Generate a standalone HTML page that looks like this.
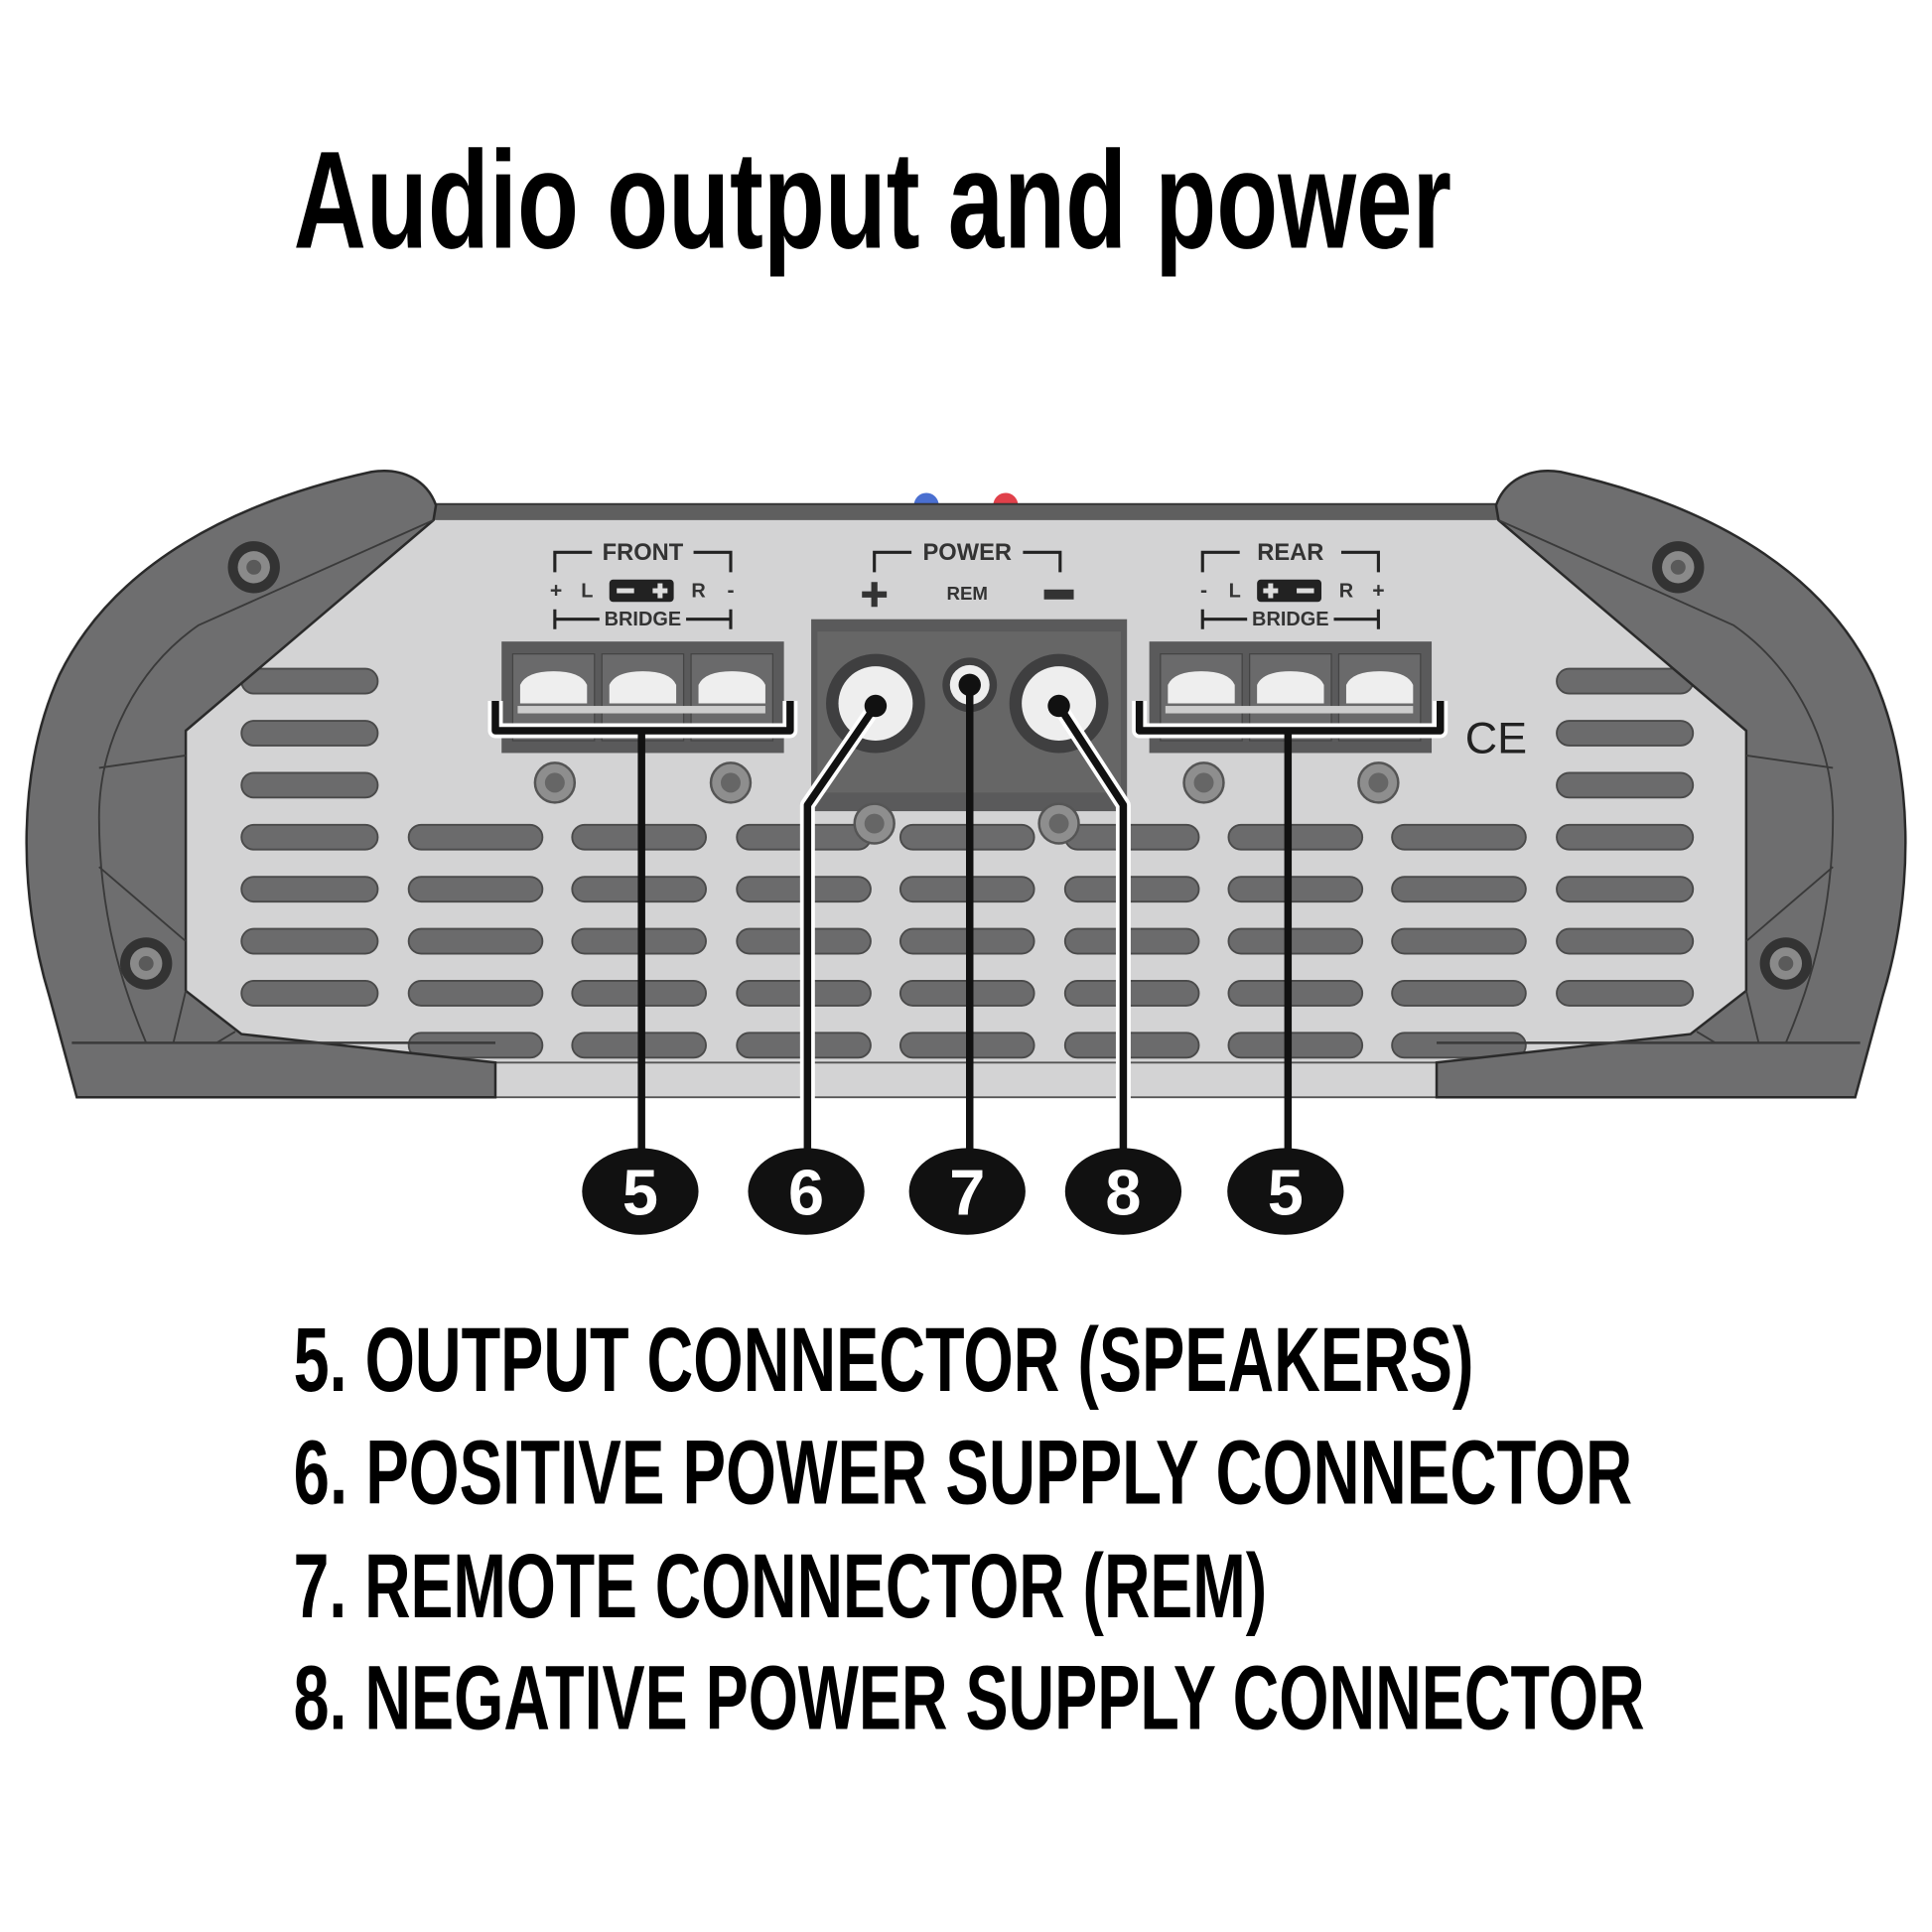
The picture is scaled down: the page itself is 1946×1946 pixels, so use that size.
<!DOCTYPE html>
<html><head><meta charset="utf-8"><style>
html,body{margin:0;padding:0;background:#fff;}
svg{display:block;}
</style></head><body>
<svg width="1946" height="1946" viewBox="0 0 1560 1560" xmlns="http://www.w3.org/2000/svg">
<rect width="1560" height="1560" fill="#fff"/>
<text x="237" y="200" font-family="Liberation Sans Narrow, Liberation Sans, sans-serif" font-weight="bold" font-size="112" textLength="935" lengthAdjust="spacingAndGlyphs" fill="#000">Audio output and power</text>

<circle cx="748" cy="408" r="10" fill="#4a6fd0"/>
<circle cx="812" cy="408" r="10" fill="#e0404a"/>
<rect x="345" y="407" width="870" height="14" fill="#5f5f5f" stroke="#333" stroke-width="1.5"/>
<path d="M350,420 L1210,420 L1410,590 L1410,800 L1365,835 L1160,858 L1160,886 L400,886 L400,858 L195,835 L150,800 L150,590 Z" fill="#d3d3d4"/>
<rect x="400" y="858" width="760" height="28" fill="#d3d3d4" stroke="#555" stroke-width="1.5"/>

<g fill="#6b6b6c" stroke="#4a4a4a" stroke-width="1.5">
<rect x="195" y="540" width="110" height="20" rx="10"/>
<rect x="195" y="582" width="110" height="20" rx="10"/>
<rect x="195" y="624" width="110" height="20" rx="10"/>
<rect x="195" y="666" width="110" height="20" rx="10"/>
<rect x="195" y="708" width="110" height="20" rx="10"/>
<rect x="195" y="750" width="110" height="20" rx="10"/>
<rect x="195" y="792" width="110" height="20" rx="10"/>
<rect x="1257" y="540" width="110" height="20" rx="10"/>
<rect x="1257" y="582" width="110" height="20" rx="10"/>
<rect x="1257" y="624" width="110" height="20" rx="10"/>
<rect x="1257" y="666" width="110" height="20" rx="10"/>
<rect x="1257" y="708" width="110" height="20" rx="10"/>
<rect x="1257" y="750" width="110" height="20" rx="10"/>
<rect x="1257" y="792" width="110" height="20" rx="10"/>
</g>
<g fill="#6b6b6c" stroke="#4a4a4a" stroke-width="1.5">
<g id="c"><rect x="330" y="666" width="108" height="20" rx="10"/><rect x="330" y="708" width="108" height="20" rx="10"/><rect x="330" y="750" width="108" height="20" rx="10"/><rect x="330" y="792" width="108" height="20" rx="10"/><rect x="330" y="834" width="108" height="20" rx="10"/></g>
<use href="#c" x="132"/><use href="#c" x="265"/><use href="#c" x="397"/><use href="#c" x="530"/><use href="#c" x="662"/><use href="#c" x="794"/>
</g>

<g id="cap">
<path d="M62,886 L40,805 C14,720 14,620 48,545 C92,455 190,405 300,381 C325,377 345,388 352,408 L350,420 L150,590 L150,800 L195,835 L400,858 L400,886 Z" fill="#6e6e6f" stroke="#2a2a2a" stroke-width="2"/>
<path d="M350,420 L160,505 C110,540 80,600 80,660 C80,740 100,800 118,842" fill="none" stroke="#3a3a3a" stroke-width="1.5"/>
<path d="M80,620 L150,610 M80,700 L150,760 M140,842 L150,800 M175,842 L190,833" stroke="#3a3a3a" stroke-width="1.5"/>
<path d="M58,842 L400,842" stroke="#3a3a3a" stroke-width="2"/>
<circle cx="205" cy="458" r="21" fill="#333"/><circle cx="205" cy="458" r="13" fill="#8a8a8a"/><circle cx="205" cy="458" r="6" fill="#5a5a5a"/>
<circle cx="118" cy="778" r="21" fill="#333"/><circle cx="118" cy="778" r="13" fill="#8a8a8a"/><circle cx="118" cy="778" r="6" fill="#5a5a5a"/>
</g>
<use href="#cap" transform="translate(1560,0) scale(-1,1)"/>

<g font-family="Liberation Sans Narrow, Liberation Sans, sans-serif" font-weight="bold" fill="#333" text-anchor="middle">
<text x="519" y="452" font-size="19">FRONT</text>
<text x="781" y="452" font-size="19">POWER</text>
<text x="1042" y="452" font-size="19">REAR</text>
<text x="519" y="505" font-size="16">BRIDGE</text>
<text x="1042" y="505" font-size="16">BRIDGE</text>
<text x="781" y="484" font-size="15">REM</text>
<text x="449" y="482" font-size="17">+</text><text x="474" y="482" font-size="16">L</text><text x="564" y="482" font-size="16">R</text><text x="590" y="482" font-size="17">-</text>
<text x="972" y="482" font-size="17">-</text><text x="997" y="482" font-size="16">L</text><text x="1087" y="482" font-size="16">R</text><text x="1113" y="482" font-size="17">+</text>
</g>
<g stroke="#222" stroke-width="2.5" fill="none">
<path d="M448,462 V446 H478 M560,446 H590 V462"/>
<path d="M448,492 V508 M448,500 H484 M554,500 H590 M590,492 V508"/>
<path d="M971,462 V446 H1001 M1083,446 H1113 V462"/>
<path d="M971,492 V508 M971,500 H1007 M1077,500 H1113 M1113,492 V508"/>
<path d="M706,462 V446 H736 M826,446 H856 V462"/>
</g>
<rect x="492" y="468" width="52" height="18" rx="3" fill="#222"/>
<rect x="1015" y="468" width="52" height="18" rx="3" fill="#222"/>
<g fill="#ddd"><rect x="498" y="475" width="14" height="4"/><rect x="527" y="475" width="12" height="4"/><rect x="531" y="471" width="4" height="12"/>
<rect x="1020" y="475" width="12" height="4"/><rect x="1024" y="471" width="4" height="12"/><rect x="1047" y="475" width="14" height="4"/></g>
<path d="M706,470 V490 M696,480 H716" stroke="#333" stroke-width="5"/>
<rect x="843" y="476" width="24" height="8" fill="#333"/>

<g id="tb">
<rect x="405" y="518" width="228" height="90" fill="#5a5a5b"/>
<rect x="414" y="528" width="66" height="70" fill="#6a6a6b" stroke="#444"/>
<rect x="486" y="528" width="66" height="70" fill="#6a6a6b" stroke="#444"/>
<rect x="558" y="528" width="66" height="70" fill="#6a6a6b" stroke="#444"/>
<path d="M420,568 V553 Q425,542 447,542 Q469,542 474,553 V568 Z M492,568 V553 Q497,542 519,542 Q541,542 546,553 V568 Z M564,568 V553 Q569,542 591,542 Q613,542 618,553 V568 Z" fill="#eee"/>
<rect x="418" y="570" width="200" height="6" fill="#ccc"/>
</g>
<use href="#tb" x="523"/>

<rect x="655" y="500" width="255" height="155" fill="#5a5a5b"/>
<rect x="660" y="510" width="245" height="130" fill="#666"/>
<circle cx="707" cy="568" r="40" fill="#3f3f40"/><circle cx="707" cy="568" r="30" fill="#eee"/>
<circle cx="783" cy="553" r="22" fill="#3f3f40"/><circle cx="783" cy="553" r="16" fill="#eee"/>
<circle cx="855" cy="568" r="40" fill="#3f3f40"/><circle cx="855" cy="568" r="30" fill="#eee"/>

<g id="sc"><circle cx="448" cy="632" r="16" fill="#8e8e8e" stroke="#555" stroke-width="2"/><circle cx="448" cy="632" r="8" fill="#666"/></g>
<use href="#sc" x="142"/><use href="#sc" x="524"/><use href="#sc" x="665"/><use href="#sc" x="258" y="33"/><use href="#sc" x="407" y="33"/>

<text x="1208" y="608" font-family="Liberation Sans, sans-serif" font-size="36" fill="#222" text-anchor="middle">CE</text>

<g fill="none" stroke-linejoin="round">
<g stroke="#fff" stroke-width="12">
<path d="M400,566 V590 H638 V566"/><path d="M920,566 V590 H1163 V566"/>
<path d="M707,570 L652,650 V940"/><path d="M855,570 L907,650 V940"/>
</g>
<g stroke="#111" stroke-width="6">
<path d="M400,566 V590 H638 V566"/><path d="M920,566 V590 H1163 V566"/>
<path d="M518,590 V940"/><path d="M1040,590 V940"/>
<path d="M707,570 L652,650 V940"/><path d="M855,570 L907,650 V940"/><path d="M783,553 V940"/>
</g>
</g>
<circle cx="707" cy="570" r="9" fill="#111"/><circle cx="783" cy="553" r="9" fill="#111"/><circle cx="855" cy="570" r="9" fill="#111"/>
<g fill="#111"><ellipse cx="517" cy="962" rx="47" ry="35"/><ellipse cx="651" cy="962" rx="47" ry="35"/><ellipse cx="781" cy="962" rx="47" ry="35"/><ellipse cx="907" cy="962" rx="47" ry="35"/><ellipse cx="1038" cy="962" rx="47" ry="35"/></g>
<g fill="#fff" font-family="Liberation Sans, sans-serif" font-weight="bold" font-size="52" text-anchor="middle">
<text x="517" y="981">5</text><text x="651" y="981">6</text><text x="781" y="981">7</text><text x="907" y="981">8</text><text x="1038" y="981">5</text>
</g>

<g font-family="Liberation Sans Narrow, Liberation Sans, sans-serif" font-weight="bold" font-size="74" fill="#000">
<text x="237" y="1123" textLength="953" lengthAdjust="spacingAndGlyphs">5. OUTPUT CONNECTOR (SPEAKERS)</text>
<text x="237" y="1214" textLength="1081" lengthAdjust="spacingAndGlyphs">6. POSITIVE POWER SUPPLY CONNECTOR</text>
<text x="237" y="1306" textLength="786" lengthAdjust="spacingAndGlyphs">7. REMOTE CONNECTOR (REM)</text>
<text x="237" y="1396" textLength="1091" lengthAdjust="spacingAndGlyphs">8. NEGATIVE POWER SUPPLY CONNECTOR</text>
</g>
</svg>
</body></html>
